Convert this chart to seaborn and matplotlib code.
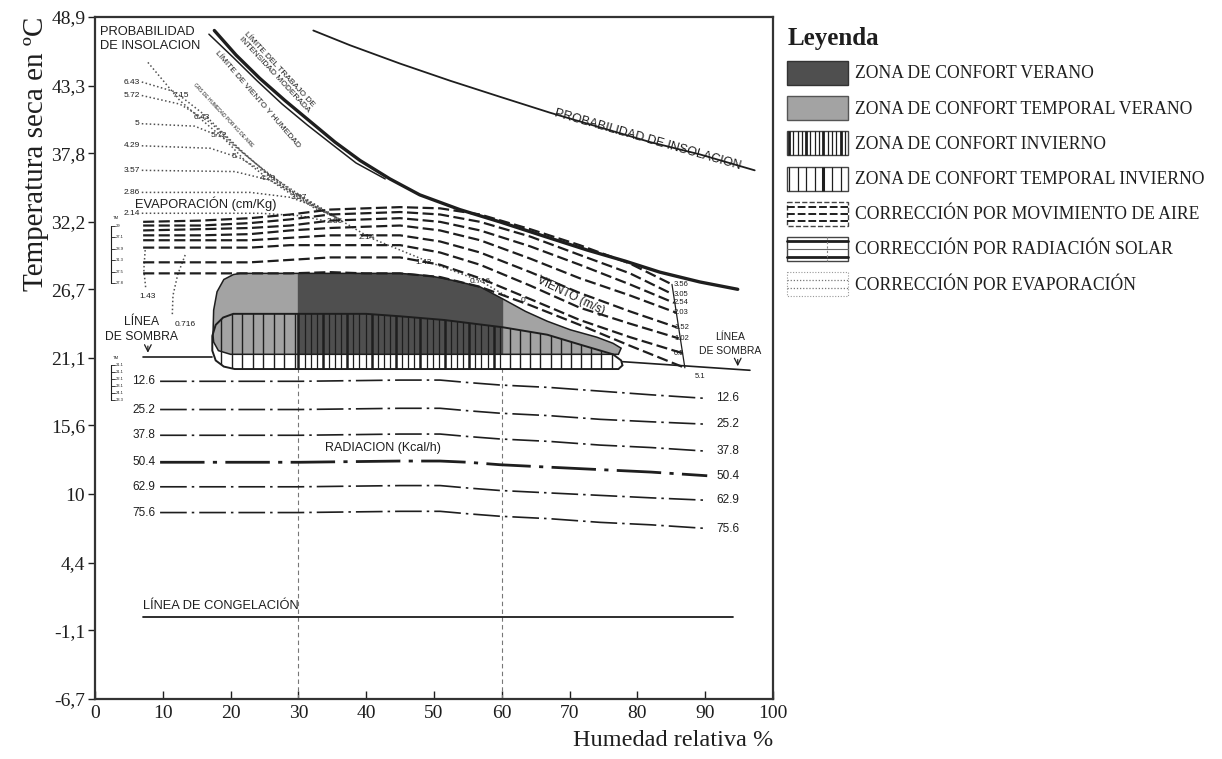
import numpy as np
import seaborn as sns
import matplotlib
matplotlib.use('Agg')
import matplotlib.pyplot as plt
from matplotlib.patches import Polygon, Rectangle

# ---------------- data ----------------
# x = humedad relativa (%), y = temperatura seca (ºC)
y_ticks = [48.9, 43.3, 37.8, 32.2, 26.7, 21.1, 15.6, 10, 4.4, -1.1, -6.7]
y_ticklabels = ['48,9', '43,3', '37,8', '32,2', '26,7', '21,1', '15,6', '10', '4,4', '-1,1', '-6,7']
x_ticks = [0, 10, 20, 30, 40, 50, 60, 70, 80, 90, 100]

# comfort zones (outline points)
verano_x = [17.4, 17.5, 18.0, 19.0, 20.4, 21.4, 30.2, 45.0, 49.4, 53.0, 56.8, 60.2, 63.5,
            66.7, 70.1, 74.0, 76.4, 77.6, 77.2, 20.0, 18.2, 17.5]
verano_y = [23.0, 25.0, 26.5, 27.5, 27.9, 28.0, 28.0, 28.0, 27.8, 27.4, 26.9, 25.9, 24.9,
            24.1, 23.4, 22.8, 22.3, 21.9, 21.4, 21.4, 21.7, 22.4]
invierno_x = [20.4, 30.0, 40.0, 45.0, 51.5, 60.2, 66.7, 71.5, 76.4, 77.6, 77.8, 77.2, 76.0,
              20.6, 19.0, 17.8, 17.3, 17.3, 17.8, 18.9]
invierno_y = [24.7, 24.7, 24.7, 24.5, 24.2, 23.6, 23.0, 22.2, 21.4, 20.9, 20.5, 20.2, 20.2,
              20.2, 20.4, 20.9, 21.7, 22.9, 23.8, 24.4]

# upper limit curves
insolacion_x = [32.2, 37.6, 45.0, 52.4, 59.7, 67.1, 74.5, 81.9, 89.2, 97.3]
insolacion_y = [47.8, 46.6, 45.1, 43.7, 42.4, 41.1, 39.9, 38.7, 37.7, 36.4]
limite_a_x = [17.6, 20.8, 24.3, 28.0, 31.7, 35.4, 39.1, 43.5, 47.9, 53.8, 59.7, 66.4, 72.6,
              78.2, 83.3, 89.2, 94.8]
limite_a_y = [47.8, 45.8, 43.9, 42.1, 40.4, 38.7, 37.2, 35.7, 34.4, 33.2, 32.2, 31.0, 29.9,
              29.0, 28.1, 27.3, 26.7]
limite_b_x = [16.8, 20.4, 23.9, 27.6, 31.3, 35.0, 38.5, 42.8]
limite_b_y = [47.5, 45.6, 43.7, 41.8, 40.1, 38.5, 37.0, 35.7]

# wind correction lines (m/s)
viento_vals = ['3.56', '3.05', '2.54', '2.03', '1.52', '1.02', '0.5', '0']
viento_x = [7.1, 15.5, 22.9, 28.8, 34.7, 39.8, 45.0, 50.9, 56.8, 64.2, 71.5, 78.9]
viento_y = [
    [32.2, 32.3, 32.5, 32.8, 33.2, 33.3, 33.4, 33.3, 32.8, 31.6, 30.3, 28.8],
    [31.9, 31.9, 32.1, 32.4, 32.8, 32.9, 33.0, 32.8, 32.2, 31.0, 29.5, 28.0],
    [31.5, 31.6, 31.7, 31.9, 32.3, 32.4, 32.5, 32.2, 31.5, 30.2, 28.7, 27.1],
    [31.1, 31.1, 31.2, 31.5, 31.7, 31.8, 31.9, 31.5, 30.7, 29.2, 27.6, 26.2],
    [30.7, 30.7, 30.7, 30.9, 31.1, 31.1, 31.1, 30.6, 29.7, 28.1, 26.4, 24.9],
    [30.1, 30.1, 30.1, 30.3, 30.3, 30.3, 30.3, 29.7, 28.7, 27.0, 25.2, 23.9],
    [28.9, 28.9, 28.9, 29.1, 29.3, 29.3, 29.3, 28.7, 27.6, 25.9, 24.2, 22.8],
    [28.0, 28.0, 28.0, 28.0, 28.1, 28.0, 28.0, 27.7, 26.9, 25.4, 23.8, 22.1],
]
viento_end_x = [85.1, 85.2, 85.4, 85.7, 85.8, 86.1, 86.6, 87.0]
viento_end_y = [27.1, 26.3, 25.6, 24.8, 23.6, 22.7, 21.5, 20.3]

# radiation correction lines (Kcal/h)
rad_vals = ['12.6', '25.2', '37.8', '50.4', '62.9', '75.6']
rad_x = [9.6, 30.2, 45.0, 50.9, 55.0, 59.7, 67.0, 74.5, 82.0, 90.3]
rad_y = [
    [19.2, 19.2, 19.3, 19.3, 19.1, 18.9, 18.7, 18.4, 18.1, 17.8],
    [16.9, 16.9, 17.0, 17.0, 16.8, 16.6, 16.4, 16.1, 15.9, 15.7],
    [14.8, 14.8, 14.9, 14.9, 14.7, 14.5, 14.3, 14.0, 13.8, 13.5],
    [12.6, 12.6, 12.7, 12.7, 12.6, 12.4, 12.2, 12.0, 11.8, 11.5],
    [10.6, 10.6, 10.7, 10.7, 10.5, 10.3, 10.1, 9.9, 9.7, 9.5],
    [8.5, 8.5, 8.6, 8.6, 8.4, 8.2, 8.0, 7.7, 7.5, 7.2],
]

# evaporation lines (dotted)
evap_left_vals = ['6.43', '5.72', '5', '4.29', '3.57', '2.86', '2.14']
evap_lines_x = [
    [7.8, 12.5, 16.2, 19.2, 22.1, 25.8, 30.2, 34.7],
    [6.9, 11.8, 16.2, 21.4, 27.3, 32.4, 35.4],
    [6.9, 12.5, 17.0, 22.1, 28.0, 32.9, 35.4],
    [6.9, 14.7, 19.2, 23.6, 28.8, 33.2, 35.4],
    [6.9, 17.0, 21.4, 25.8, 30.2, 33.9, 35.4],
    [6.9, 20.6, 25.8, 30.2, 34.4, 36.1],
    [6.9, 22.9, 28.8, 33.2, 36.1],
    [6.9, 24.3, 30.2, 34.7],
    [35.4, 40.6, 45.0, 49.4, 56.8, 60.5],
    [7.4, 7.2, 7.5],
    [13.3, 12.2, 11.5, 11.4],
]
evap_lines_y = [
    [45.2, 42.1, 40.3, 38.9, 37.2, 35.6, 34.0, 32.8],
    [43.6, 42.8, 40.9, 38.1, 35.2, 33.3, 32.6],
    [42.5, 41.8, 40.3, 37.7, 35.0, 33.3, 32.6],
    [40.2, 40.0, 39.0, 37.0, 34.8, 33.2, 32.6],
    [38.4, 38.2, 37.4, 36.0, 34.4, 33.1, 32.6],
    [36.4, 36.3, 35.6, 34.3, 33.0, 32.4],
    [34.6, 34.6, 34.2, 33.3, 32.4],
    [32.9, 32.9, 32.7, 32.2],
    [32.6, 30.9, 29.9, 28.9, 27.4, 26.2],
    [29.9, 28.3, 26.7],
    [29.5, 27.9, 26.2, 24.6],
]
evap_diag_vals = ['7.15', '6.43', '5.72', '5', '4.29', '3.57']
evap_diag_x = [11.5, 14.5, 17.1, 20.1, 24.3, 28.8]
evap_diag_y = [42.5, 40.7, 39.2, 37.5, 35.7, 34.2]
evap_right_vals = ['2.86', '2.14', '1.43', '0.716', '0', '1.43', '0.716']
evap_right_x = [35.4, 40.1, 48.4, 56.8, 63.1, 7.8, 13.3]
evap_right_y = [32.2, 30.9, 28.9, 27.3, 25.8, 26.1, 23.8]

# shade and freezing lines
sombra_izq_x, sombra_izq_y = [7.1, 17.3], [21.2, 21.2]
sombra_der_x, sombra_der_y = [77.8, 96.6], [20.8, 20.1]
congelacion_x, congelacion_y = [7.1, 94.1], [0.0, 0.0]

legend_labels = ['ZONA DE CONFORT VERANO', 'ZONA DE CONFORT TEMPORAL VERANO',
                 'ZONA DE CONFORT INVIERNO', 'ZONA DE CONFORT TEMPORAL INVIERNO',
                 'CORRECCIÓN POR MOVIMIENTO DE AIRE', 'CORRECCIÓN POR RADIACIÓN SOLAR',
                 'CORRECCIÓN POR EVAPORACIÓN']

# ---------------- plotting ----------------
sns.set_theme(style='white')
plt.rcParams['font.family'] = ['Liberation Serif', 'DejaVu Serif']
SANS = ['Liberation Sans', 'DejaVu Sans']
INK = '#1e1e1e'

fig = plt.figure(figsize=(12.22, 7.59), dpi=100)
ax = fig.add_axes([95 / 1222, 60 / 759, 678 / 1222, 682 / 759])


def curve(xs, ys, **kw):
    sns.lineplot(x=xs, y=ys, ax=ax, sort=False, estimator=None, legend=False, **kw)


def txt(x, y, s, size=6, **kw):
    kw.setdefault('ha', 'center')
    kw.setdefault('va', 'center')
    ax.text(x, y, s, fontsize=size, family=SANS, color=INK, **kw)


# reference verticals at 30 % and 60 %
curve([30, 30], [-6.7, 28.0], color='#777', lw=0.8, ls=(0, (4, 3)), zorder=1)
curve([60, 60], [-6.7, 25.9], color='#777', lw=0.8, ls=(0, (4, 3)), zorder=1)

# comfort zones
inv_pts = np.column_stack([invierno_x, invierno_y])
ver_pts = np.column_stack([verano_x, verano_y])
ax.add_patch(Polygon(inv_pts, closed=True, facecolor='white', edgecolor='none', zorder=1.9))
gray = Polygon(ver_pts, closed=True, facecolor='#a3a3a3', edgecolor='none', zorder=2)
ax.add_patch(gray)
dark = ax.axvspan(30, 60, color='#4f4f4f', zorder=2.1)
dark.set_clip_path(gray)

inv_clip = Polygon(inv_pts, closed=True, facecolor='none', edgecolor='none')
ax.add_patch(inv_clip)
hx_temp = np.concatenate([np.arange(18.6, 30, 1.55), np.arange(61.2, 78, 1.5)])
hx_main = np.arange(30.0, 60.1, 0.9)
vl1 = ax.vlines(hx_temp, 19, 26, colors=INK, lw=1.0, zorder=3)
vl2 = ax.vlines(hx_main, 19, 26, colors=INK,
                lw=[1.8 if i % 4 == 0 else 0.9 for i in range(len(hx_main))], zorder=3)
for v in (vl1, vl2):
    v.set_clip_path(inv_clip)
ax.add_patch(Polygon(ver_pts, closed=True, facecolor='none', edgecolor=INK, lw=1.1, zorder=4))
ax.add_patch(Polygon(inv_pts, closed=True, facecolor='none', edgecolor=INK, lw=1.4, zorder=4))

# upper limits
curve(insolacion_x, insolacion_y, color=INK, lw=1.3)
curve(limite_a_x, limite_a_y, color=INK, lw=2.4)
curve(limite_b_x, limite_b_y, color=INK, lw=1.1)

# wind lines
for vals, ex, ey in zip(viento_y, viento_end_x, viento_end_y):
    curve(viento_x + [ex], vals + [ey], color=INK, lw=1.6, ls=(0, (5, 2)), zorder=5)
curve([viento_end_x[0], viento_end_x[-1]], [viento_end_y[0], viento_end_y[-1]], color=INK, lw=0.9)
for v, ey in zip(viento_vals[:-1], viento_end_y[:-1]):
    txt(85.4, ey, v, size=5.5, ha='left')
txt(89.2, 19.6, '5.1', size=5.5)

# evaporation lines
for xs, ys in zip(evap_lines_x, evap_lines_y):
    curve(xs, ys, color='#505050', lw=1.1, ls=(0, (1, 1.6)), zorder=4.5)
for v, ys in zip(evap_left_vals, evap_lines_y[1:8]):
    txt(6.6, ys[0], v, size=6, ha='right')
for v, x, y in zip(evap_diag_vals, evap_diag_x, evap_diag_y):
    txt(x, y, v, size=6, ha='left')
for v, x, y in zip(evap_right_vals, evap_right_x, evap_right_y):
    txt(x, y, v, size=6)

# radiation lines
for v, ys in zip(rad_vals, rad_y):
    lw = 2.0 if v == '50.4' else 1.2
    curve(rad_x, ys, color=INK, lw=lw, ls=(0, (16, 3, 1.5, 3)), zorder=4)
    txt(8.9, ys[0], v, size=8.5, ha='right')
    txt(91.6, ys[-1], v, size=8.5, ha='left')

# shade and freezing lines
curve(sombra_izq_x, sombra_izq_y, color=INK, lw=1.2)
curve(sombra_der_x, sombra_der_y, color=INK, lw=1.2)
curve(congelacion_x, congelacion_y, color=INK, lw=1.3)

# small "TM" scales on the left
for top, bot, labs in [(31.9, 27.2, ['29', '27.1', '28.9', '31.3', '27.5', '27.8']),
                       (20.5, 17.7, ['21.1', '21.1', '22.1', '23.1', '24.1', '23.3'])]:
    curve([2.4, 2.4], [top, bot], color=INK, lw=0.8)
    for lab, yy in zip(labs, np.linspace(top, bot, len(labs))):
        curve([2.4, 2.9], [yy, yy], color=INK, lw=0.6)
        txt(3.1, yy, lab, size=3, ha='left')
    txt(2.6, top + 0.6, 'TM', size=3, ha='left')

# labels inside the chart
txt(0.8, 47.1, 'PROBABILIDAD\nDE INSOLACION', size=9.3, ha='left', linespacing=1.2)
txt(26.8, 44.4, 'LÍMITE DEL TRABAJO DE\nINTENSIDAD MODERADA', size=6, rotation=-47,
    rotation_mode='anchor', linespacing=1.0)
txt(24.0, 42.2, 'LÍMITE DE VIENTO Y HUMEDAD', size=6, rotation=-49, rotation_mode='anchor')
txt(18.9, 40.9, 'GRS DE HUMEDAD POR KG DE AIRE', size=3.5, rotation=-47, rotation_mode='anchor')
txt(81.6, 38.9, 'PROBABILIDAD DE INSOLACION', size=9, rotation=-16, rotation_mode='anchor')
txt(5.9, 33.7, 'EVAPORACIÓN (cm/Kg)', size=9.3, ha='left')
txt(70.1, 26.2, 'VIENTO (m/s)', size=8.5, rotation=-26, rotation_mode='anchor')
txt(42.5, 13.8, 'RADIACION (Kcal/h)', size=9)
txt(7.1, 0.9, 'LÍNEA DE CONGELACIÓN', size=9.3, ha='left')
txt(6.8, 24.0, 'LÍNEA', size=8.7)
txt(6.8, 22.8, 'DE SOMBRA', size=8.7)
txt(93.7, 22.8, 'LÍNEA', size=7.5)
txt(93.7, 21.7, 'DE SOMBRA', size=7.5)
ax.annotate('', xy=(7.8, 21.3), xytext=(7.8, 22.3),
            arrowprops=dict(arrowstyle='->', color=INK, lw=0.9))
ax.annotate('', xy=(94.8, 20.2), xytext=(94.8, 21.2),
            arrowprops=dict(arrowstyle='->', color=INK, lw=0.9))

# axes
ax.set_xlim(0, 100)
ax.set_ylim(-6.7, 48.9)
ax.set_xticks(x_ticks)
ax.set_xticklabels([str(t) for t in x_ticks], fontsize=14)
ax.set_yticks(y_ticks)
ax.set_yticklabels(y_ticklabels, fontsize=14)
ax.tick_params(axis='x', direction='in', length=6, width=1, colors=INK, pad=4)
ax.tick_params(axis='y', direction='out', length=5, width=1, colors=INK, pad=2)
ax.tick_params(bottom=True, left=True)
for sp in ax.spines.values():
    sp.set_visible(True)
    sp.set_color('#333')
    sp.set_linewidth(1.6)
ax.set_xlabel('Humedad relativa %', fontsize=17.5, loc='right', labelpad=6, color=INK)
ax.set_ylabel('Temperatura seca en ºC', fontsize=21, loc='top', labelpad=1, color=INK)
ax.grid(False)

# legend drawn in pixel space
lax = fig.add_axes([0, 0, 1, 1])
lax.set_xlim(0, 1222)
lax.set_ylim(759, 0)
lax.axis('off')
lax.patch.set_visible(False)
lax.text(788, 38, 'Leyenda', fontsize=18, fontweight='bold', va='center', color=INK)
x0, w, h = 787, 61, 24
for i, lab in enumerate(legend_labels):
    yc = 73 + i * 35.2
    y0 = yc - h / 2
    if i == 0:
        lax.add_patch(Rectangle((x0, y0), w, h, facecolor='#4f4f4f', edgecolor='#333', lw=1))
    elif i == 1:
        lax.add_patch(Rectangle((x0, y0), w, h, facecolor='#a3a3a3', edgecolor='#555', lw=1))
    elif i in (2, 3):
        step = 4.3 if i == 2 else 8.6
        xs = np.arange(x0 + 2, x0 + w, step)
        lws = [2.0 if k % 4 == 0 else 0.9 for k in range(len(xs))] if i == 2 else \
              [2.2 if k == 4 else 0.9 for k in range(len(xs))]
        lax.vlines(xs, y0, y0 + h, colors=INK, lw=lws)
        lax.add_patch(Rectangle((x0, y0), w, h, facecolor='none', edgecolor='#444', lw=1))
    elif i == 4:
        for dy in (-7, 0, 7):
            lax.plot([x0, x0 + w], [yc + dy, yc + dy], color=INK, lw=1.4, ls=(0, (4, 1.5)))
        lax.add_patch(Rectangle((x0, y0), w, h, facecolor='none', edgecolor='#444', lw=1, ls='--'))
    elif i == 5:
        lax.plot([x0, x0 + w], [yc - 8, yc - 8], color=INK, lw=2.0)
        lax.plot([x0, x0 + w], [yc, yc], color='#666', lw=0.8)
        lax.plot([x0, x0 + w], [yc + 8, yc + 8], color=INK, lw=2.0)
        lax.plot([x0 + 40, x0 + 40], [y0, y0 + h], color='#888', lw=0.8, ls=(0, (2, 2)))
        lax.add_patch(Rectangle((x0, y0), w, h, facecolor='none', edgecolor='#444', lw=1))
    else:
        for dy in (-4, 4):
            lax.plot([x0, x0 + w], [yc + dy, yc + dy], color='#777', lw=0.9, ls=(0, (1, 1.5)))
        lax.add_patch(Rectangle((x0, y0), w, h, facecolor='none', edgecolor='#999', lw=0.8,
                                ls=(0, (1, 1.5))))
    lax.text(855, yc + 1, lab, fontsize=12.7, va='center', color=INK)

fig.savefig('out.png', dpi=100)
